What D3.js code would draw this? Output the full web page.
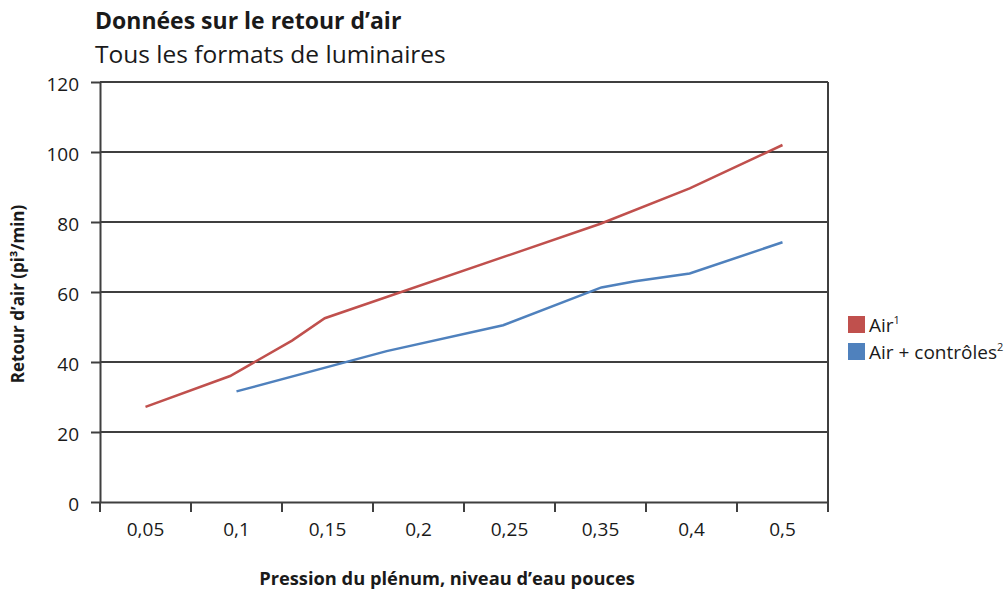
<!DOCTYPE html>
<html>
<head>
<meta charset="utf-8">
<script src="https://cdn.jsdelivr.net/npm/d3@7"></script>
<style>
  body { margin: 0; background: #fff; }
  text { font-family: "Open Sans", sans-serif; fill: #1a1a1a; }
</style>
</head>
<body>
<div id="chart-container"></div>
<script>
// line chart - air return data
// x = plenum pressure (category axis), y = air return (cfm)

const categories = ["0,05", "0,1", "0,15", "0,2", "0,25", "0,35", "0,4", "0,5"];
const yTicks = [0, 20, 40, 60, 80, 100, 120];

// x positions are in category units (0 = first category centre)
const airX = [0, 0.93, 1.61, 1.97, 5.0, 5.98, 7.0];
const airY = [27.2, 36.0, 46.1, 52.5, 79.5, 89.6, 102.0];
const ctrlX = [1.0, 2.65, 3.93, 5.01, 5.38, 5.98, 7.0];
const ctrlY = [31.6, 43.1, 50.5, 61.3, 63.1, 65.3, 74.2];

const seriesNames = ["Air", "Air + contrôles"];
const seriesSup = ["1", "2"];
const colors = ["#C0504D", "#4F81BD"];

const svgWidth = 1007;
const svgHeight = 590;
const margin = { top: 82, right: 179, bottom: 88, left: 100 };
const width = svgWidth - margin.left - margin.right;
const height = svgHeight - margin.top - margin.bottom;
const axisColor = "#3f3f3f";

const svg = d3.select("#chart-container")
    .append("svg")
    .attr("width", svgWidth)
    .attr("height", svgHeight);

svg.append("text")
    .attr("x", 95)
    .attr("y", 29)
    .attr("font-size", "23px")
    .attr("font-weight", "bold")
    .text("Données sur le retour d’air");

svg.append("text")
    .attr("x", 95)
    .attr("y", 63)
    .attr("font-size", "24.5px")
    .text("Tous les formats de luminaires");

const chart = svg.append("g")
    .attr("transform", `translate(${margin.left},${margin.top})`);

const scaleX = d3.scaleBand()
    .domain(categories)
    .range([0, width]);

const posX = d3.scaleLinear()
    .domain([-0.5, categories.length - 0.5])
    .range([0, width]);

const scaleY = d3.scaleLinear()
    .domain([0, 120])
    .range([height, 0]);

// gridlines
chart.append("g")
    .selectAll("line")
    .data(yTicks.filter(d => d > 0))
    .enter()
    .append("line")
    .attr("x1", 0)
    .attr("x2", width)
    .attr("y1", d => scaleY(d))
    .attr("y2", d => scaleY(d))
    .attr("stroke", axisColor)
    .attr("stroke-width", 2);

// right border
chart.append("line")
    .attr("x1", width).attr("x2", width)
    .attr("y1", 0).attr("y2", height)
    .attr("stroke", axisColor)
    .attr("stroke-width", 2);

const yAxis = chart.append("g")
    .call(d3.axisLeft(scaleY).tickValues(yTicks).tickSize(9).tickPadding(12).tickSizeOuter(0));
yAxis.select(".domain").attr("stroke", axisColor).attr("stroke-width", 2);
yAxis.selectAll(".tick line").attr("stroke", axisColor).attr("stroke-width", 2);
yAxis.selectAll("text")
    .attr("font-size", "19px")
    .attr("font-family", "Open Sans, sans-serif")
    .attr("fill", "#1a1a1a")
    .attr("dy", "0.45em");

const xAxis = chart.append("g")
    .attr("transform", `translate(0,${height})`)
    .call(d3.axisBottom(scaleX).tickSize(0).tickPadding(21));
xAxis.select(".domain").attr("stroke", axisColor).attr("stroke-width", 2);
xAxis.selectAll("text")
    .attr("font-size", "19px")
    .attr("font-family", "Open Sans, sans-serif")
    .attr("fill", "#1a1a1a");

// tick marks between categories
xAxis.selectAll(".sep")
    .data(d3.range(categories.length + 1))
    .enter()
    .append("line")
    .attr("x1", i => i * scaleX.step())
    .attr("x2", i => i * scaleX.step())
    .attr("y1", 0)
    .attr("y2", 10)
    .attr("stroke", axisColor)
    .attr("stroke-width", 2);

// axis titles
chart.append("text")
    .attr("x", 347)
    .attr("y", height + 83)
    .attr("text-anchor", "middle")
    .attr("font-size", "18.3px")
    .attr("font-weight", "bold")
    .text("Pression du plénum, niveau d’eau pouces");

chart.append("text")
    .attr("transform", "rotate(-90)")
    .attr("x", -(height / 2) - 2)
    .attr("y", -76)
    .attr("text-anchor", "middle")
    .attr("font-size", "17px")
    .attr("font-weight", "bold")
    .text("Retour d’air (pi³/min)");

// lines
const series = [
    airX.map((x, i) => ({ x: x, y: airY[i] })),
    ctrlX.map((x, i) => ({ x: x, y: ctrlY[i] }))
];

const line = d3.line()
    .x(d => posX(d.x))
    .y(d => scaleY(d.y));

chart.selectAll(".series")
    .data(series)
    .enter()
    .append("path")
    .attr("d", line)
    .attr("fill", "none")
    .attr("stroke", (d, i) => colors[i])
    .attr("stroke-width", 2.5);

// legend
const legend = svg.append("g")
    .attr("transform", "translate(848,316)");

const items = legend.selectAll("g")
    .data(seriesNames)
    .enter()
    .append("g")
    .attr("transform", (d, i) => `translate(0,${i * 27})`);

items.append("rect")
    .attr("width", 17)
    .attr("height", 17)
    .attr("fill", (d, i) => colors[i]);

const labels = items.append("text")
    .attr("x", 21)
    .attr("y", 16)
    .attr("font-size", "19px")
    .text(d => d);

labels.append("tspan")
    .attr("font-size", "11px")
    .attr("dy", "-0.7em")
    .text((d, i) => seriesSup[i]);
</script>
</body>
</html>
